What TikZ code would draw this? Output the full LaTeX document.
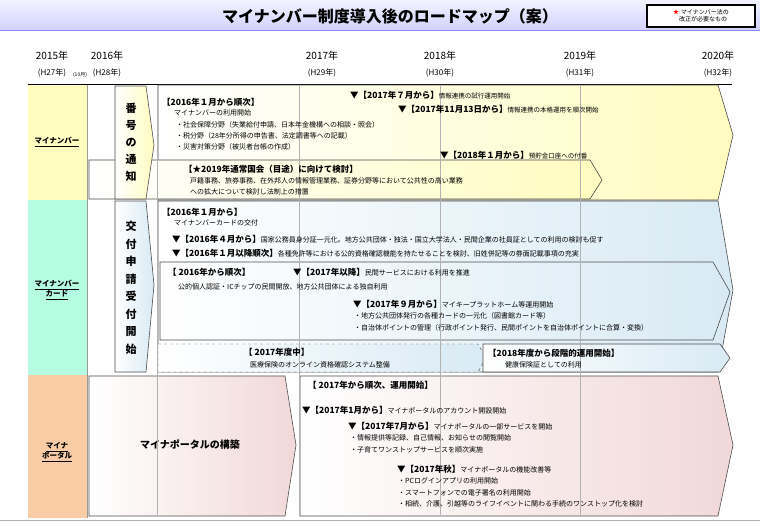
\documentclass[tikz,border=0pt]{standalone}
\usepackage{fontspec}
\setmainfont{Noto Sans CJK JP}
\usetikzlibrary{shapes.geometric}
\definecolor{yel}{HTML}{FFFCC0}
\definecolor{cya}{HTML}{B4FCE2}
\definecolor{ora}{HTML}{FACCA6}
\definecolor{lblue}{HTML}{D8EAF4}
\definecolor{lpink}{HTML}{F2D8D8}
\tikzset{
 t/.style={anchor=west,inner sep=0pt,font=\fontsize{7}{8}\selectfont},
 h/.style={anchor=west,inner sep=0pt,font=\fontsize{8.5}{9}\selectfont\bfseries},
 yr/.style={inner sep=0pt,font=\fontsize{10}{11}\selectfont},
 lab/.style={inner sep=0pt,align=center,font=\fontsize{7.5}{10}\selectfont\bfseries},
 frame/.style={draw=black!70,line width=0.6pt},
 grid/.style={draw=black!30,line width=0.4pt},
}
\begin{document}
\begin{tikzpicture}[x=1pt,y=-1pt]
\useasboundingbox (0,0) rectangle (760,527);
\fill[white] (0,0) rectangle (760,527);
% title bar
\shade[top color=blue!5,bottom color=blue!18] (0,0) rectangle (760,31);
\draw[blue!45,line width=1pt] (0,31)--(760,31);
\node[inner sep=0pt,font=\fontsize{16}{17}\selectfont\bfseries] (title) at (390,16) {マイナンバー制度導入後のロードマップ（案）};
\node[draw,line width=1.5pt,fill=white,minimum width=108,minimum height=22,align=left,inner sep=1pt,font=\fontsize{6}{7}\selectfont] (leg) at (701,16) {{\color{red}★}:マイナンバー法の\\　改正が必要なもの};
% years
\node[yr] (y15) at (52,56) {2015年}; \node[yr,font=\fontsize{8}{9}\selectfont] (h27) at (52,73) {(H27年)};
\node[inner sep=0pt,font=\fontsize{5}{6}\selectfont] (oct) at (80,75) {(10月)};
\node[yr] (y16) at (107,56) {2016年}; \node[yr,font=\fontsize{8}{9}\selectfont] (h28) at (107,73) {(H28年)};
\node[yr] (y17) at (322,56) {2017年}; \node[yr,font=\fontsize{8}{9}\selectfont] (h29) at (322,73) {(H29年)};
\node[yr] (y18) at (440,56) {2018年}; \node[yr,font=\fontsize{8}{9}\selectfont] (h30) at (440,73) {(H30年)};
\node[yr] (y19) at (580,56) {2019年}; \node[yr,font=\fontsize{8}{9}\selectfont] (h31) at (580,73) {(H31年)};
\node[yr] (y20) at (718,56) {2020年}; \node[yr,font=\fontsize{8}{9}\selectfont] (h32) at (718,73) {(H32年)};
\draw[line width=0.8pt] (28,84)--(732,84);
% row labels
\fill[yel] (28,85) rectangle (87,200);
\fill[cya] (28,200) rectangle (87,375);
\fill[ora] (28,375) rectangle (87,518);
\node[lab] (r1) at (57,142) {\underline{マイナンバー}};
\node[lab] (r2) at (57,290) {\underline{マイナンバー}\\\underline{カード}};
\node[lab] (r3) at (57,452) {\underline{マイナ}\\\underline{ポータル}};
\draw[black!40] (87,85)--(87,518);
% row1
\shade[frame,left color=white,right color=yel] (158,85)--(718,85)--(733,135)--(718,200)--(158,200)--cycle;
\shade[frame,left color=white,right color=yel] (89,160)--(590,160)--(602,180)--(590,199)--(89,199)--cycle;
\shade[frame,left color=white,right color=yel] (115,86)--(146,86)--(154,145)--(146,199)--(115,199)--cycle;
\node[lab,font=\fontsize{11}{17}\selectfont\bfseries] (v1) at (131,142) {番\\号\\の\\通\\知};
% row2
\shade[frame,left color=white,right color=lblue] (158,201)--(718,201)--(733,290)--(718,372)--(158,372)--cycle;
\shade[frame,left color=white,right color=lblue] (160,262)--(713,262)--(730,292)--(713,340)--(160,340)--cycle;
\shade[draw=black!70,dashed,left color=white,right color=lblue] (158,344)--(478,344)--(486,358)--(478,372)--(158,372)--cycle;
\shade[frame,left color=white,right color=lblue] (483,344)--(720,344)--(730,358)--(720,372)--(483,372)--cycle;
\shade[frame,left color=white,right color=lblue] (115,201)--(146,201)--(154,285)--(146,372)--(115,372)--cycle;
\node[lab,font=\fontsize{11}{17.5}\selectfont\bfseries] (v2) at (131,288) {交\\付\\申\\請\\受\\付\\開\\始};
% row3
\shade[frame,left color=white,right color=lpink] (89,376)--(285,376)--(296,445)--(285,516)--(89,516)--cycle;
\shade[frame,left color=white,right color=lpink] (300,376)--(718,376)--(733,445)--(718,516)--(300,516)--cycle;
\node[inner sep=0pt,font=\fontsize{10}{11}\selectfont\bfseries] (mp) at (190,445) {マイナポータルの構築};
\draw[black!30] (0,520)--(760,520);
% grid
\foreach \xx in {157,299,440,580} \draw[grid] (\xx,85)--(\xx,515);
% row1 text
\node[h] (a1) at (350,95) {▼【2017年７月から】\fontseries{m}\selectfont\fontsize{6.5}{7}\selectfont 情報連携の試行運用開始};
\node[h] (a2) at (398,109) {▼【2017年11月13日から】\fontseries{m}\selectfont\fontsize{6.5}{7}\selectfont 情報連携の本格運用を順次開始};
\node[h] (a3) at (162,102) {【2016年１月から順次】};
\node[t] (a4) at (174,113) {マイナンバーの利用開始};
\node[t] (a5) at (176,125) {・社会保障分野（失業給付申請、日本年金機構への相談・照会）};
\node[t] (a6) at (176,136) {・税分野（28年分所得の申告書、法定調書等への記載）};
\node[t] (a7) at (176,147) {・災害対策分野（被災者台帳の作成）};
\node[h] (a8) at (440,155) {▼【2018年１月から】\fontseries{m}\selectfont\fontsize{6.5}{7}\selectfont 預貯金口座への付番};
\node[h] (a9) at (184,169) {【★2019年通常国会（目途）に向けて検討】};
\node[t] (a10) at (190,181) {戸籍事務、旅券事務、在外邦人の情報管理業務、証券分野等において公共性の高い業務};
\node[t] (a11) at (190,192) {への拡大について検討し法制上の措置};
% row2 text
\node[h] (b1) at (162,212) {【2016年１月から】};
\node[t] (b2) at (174,223) {マイナンバーカードの交付};
\node[h] (b3) at (172,239) {▼【2016年４月から】\fontseries{m}\selectfont\fontsize{7}{8}\selectfont 国家公務員身分証一元化。地方公共団体・独法・国立大学法人・民間企業の社員証としての利用の検討も促す};
\node[h] (b4) at (172,253) {▼【2016年１月以降順次】\fontseries{m}\selectfont\fontsize{7}{8}\selectfont 各種免許等における公的資格確認機能を持たせることを検討、旧姓併記等の券面記載事項の充実};
\node[h] (b5) at (168,272) {【 2016年から順次】};
\node[h] (b6) at (293,272) {▼【2017年以降】\fontseries{m}\selectfont\fontsize{7}{8}\selectfont 民間サービスにおける利用を推進};
\node[t] (b7) at (178,287) {公的個人認証・ICチップの民間開放、地方公共団体による独自利用};
\node[h] (b8) at (353,304) {▼【2017年９月から】\fontseries{m}\selectfont\fontsize{7}{8}\selectfont マイキープラットホーム等運用開始};
\node[t] (b9) at (354,316) {・地方公共団体発行の各種カードの一元化（図書館カード等）};
\node[t] (b10) at (354,328) {・自治体ポイントの管理（行政ポイント発行、民間ポイントを自治体ポイントに合算・変換）};
\node[h] (b11) at (244,352) {【 2017年度中】};
\node[t] (b12) at (250,365) {医療保険のオンライン資格確認システム整備};
\node[h] (b13) at (488,353) {【2018年度から段階的運用開始】};
\node[t] (b14) at (505,365) {健康保険証としての利用};
% row3 text
\node[h] (c1) at (308,385) {【 2017年から順次、運用開始】};
\node[h] (c2) at (302,410) {▼【2017年1月から】\fontseries{m}\selectfont\fontsize{7}{8}\selectfont マイナポータルのアカウント開設開始};
\node[h] (c3) at (348,426) {▼【2017年7月から】\fontseries{m}\selectfont\fontsize{7}{8}\selectfont マイナポータルの一部サービスを開始};
\node[t] (c4) at (350,438) {・情報提供等記録、自己情報、お知らせの閲覧開始};
\node[t] (c5) at (350,450) {・子育てワンストップサービスを順次実施};
\node[h] (c6) at (397,469) {▼【2017年秋】\fontseries{m}\selectfont\fontsize{7}{8}\selectfont マイナポータルの機能改善等};
\node[t] (c7) at (398,481) {・PCログインアプリの利用開始};
\node[t] (c8) at (398,493) {・スマートフォンでの電子署名の利用開始};
\node[t] (c9) at (398,504) {・相続、介護、引越等のライフイベントに関わる手続のワンストップ化を検討};
\end{tikzpicture}
\end{document}
